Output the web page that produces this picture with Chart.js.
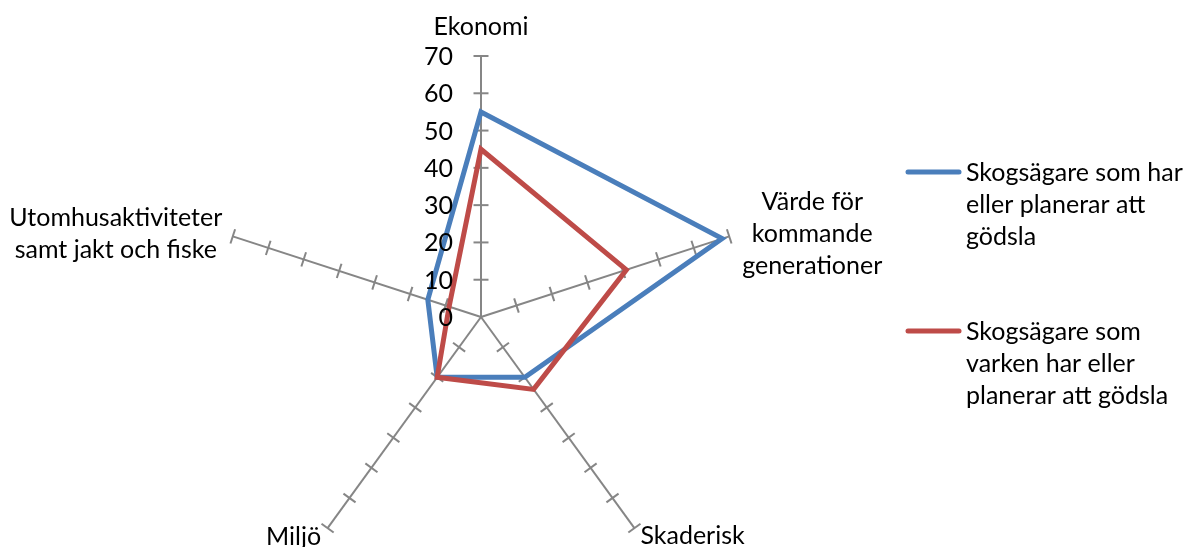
<!DOCTYPE html>
<html>
<head>
<meta charset="utf-8">
<title>Skogsägares värderingar</title>
<script src="https://cdn.jsdelivr.net/npm/chart.js@4/dist/chart.umd.min.js"></script>
<style>
  html, body { margin: 0; padding: 0; background: #ffffff; overflow: hidden; }
  #wrap { position: relative; width: 1192px; height: 640px; }
</style>
</head>
<body>
<div id="wrap"><canvas id="radar" width="1192" height="640"></canvas></div>
<script>
// Axis categories (multi-line labels), clockwise from the top
const categories = [
  ['Ekonomi'],
  ['Värde för', 'kommande', 'generationer'],
  ['Skaderisk'],
  ['Miljö'],
  ['Utomhusaktiviteter', 'samt jakt och fiske']
];

// Series names, wrapped as shown in the legend
const seriesNames = [
  ['Skogsägare som har', 'eller planerar att', 'gödsla'],
  ['Skogsägare som', 'varken har eller', 'planerar att gödsla']
];

// Values per category
const fertilizing = [55, 68, 20, 20, 15];
const notFertilizing = [45, 41, 24, 20, 9];

// Radial axis tick labels
const tickLabels = ['0', '10', '20', '30', '40', '50', '60', '70'];

const FONT = 'Lato, "Open Sans", sans-serif';
const FONT_SIZE = 25;
const BLUE = '#4A7EBB';
const RED = '#BE4B48';
const AXIS = '#868686';

// Placement of each category label relative to the end of its spoke
const labelPlacement = [
  { dx: 0,    dy: -29, align: 'center' },
  { dx: 83,   dy: -34, align: 'center' },
  { dx: 6,    dy: 8,   align: 'left' },
  { dx: -34,  dy: 9,   align: 'center' },
  { dx: -117, dy: -18, align: 'center' }
];
const LINE_H = 32;

const radarDecor = {
  id: 'radarDecor',
  beforeDatasetsDraw(chart) {
    const r = chart.scales.r;
    const ctx = chart.ctx;
    ctx.save();
    ctx.strokeStyle = AXIS;
    ctx.lineWidth = 2;
    const n = chart.data.labels.length;
    for (let i = 0; i < n; i++) {
      const ang = r.getIndexAngle(i) - Math.PI / 2;
      const px = -Math.sin(ang), py = Math.cos(ang);
      for (let k = 1; k < tickLabels.length; k++) {
        const v = Number(tickLabels[k]);
        const p = r.getPointPosition(i, r.getDistanceFromCenterForValue(v));
        ctx.beginPath();
        ctx.moveTo(p.x - px * 7.5, p.y - py * 7.5);
        ctx.lineTo(p.x + px * 7.5, p.y + py * 7.5);
        ctx.stroke();
      }
    }
    ctx.restore();
  },
  afterDraw(chart) {
    const r = chart.scales.r;
    const ctx = chart.ctx;
    ctx.save();
    ctx.fillStyle = '#000000';
    ctx.font = FONT_SIZE + 'px ' + FONT;
    ctx.textBaseline = 'middle';

    // tick labels along the top spoke
    ctx.textAlign = 'right';
    tickLabels.forEach(t => {
      const p = r.getPointPosition(0, r.getDistanceFromCenterForValue(Number(t)));
      ctx.fillText(t, p.x - 28, p.y + 1);
    });

    // category labels
    categories.forEach((lines, i) => {
      const end = r.getPointPosition(i, r.drawingArea);
      const pl = labelPlacement[i];
      ctx.textAlign = pl.align;
      lines.forEach((txt, j) => {
        ctx.fillText(txt, end.x + pl.dx, end.y + pl.dy + j * LINE_H);
      });
    });

    // legend
    const colors = [BLUE, RED];
    const legendX = 906, legendTop = [172, 331];
    seriesNames.forEach((lines, s) => {
      const y = legendTop[s];
      ctx.strokeStyle = colors[s];
      ctx.lineWidth = 5;
      ctx.lineCap = 'round';
      ctx.beginPath();
      ctx.moveTo(legendX + 2, y);
      ctx.lineTo(legendX + 53, y);
      ctx.stroke();
      ctx.textAlign = 'left';
      lines.forEach((txt, j) => {
        ctx.fillText(txt, legendX + 60, y + 1 + j * LINE_H);
      });
    });
    ctx.restore();
  }
};

new Chart(document.getElementById('radar'), {
  type: 'radar',
  data: {
    labels: categories,
    datasets: [
      { label: seriesNames[0].join(' '), data: fertilizing, borderColor: BLUE, order: 1 },
      { label: seriesNames[1].join(' '), data: notFertilizing, borderColor: RED, order: 0 }
    ]
  },
  options: {
    responsive: false,
    animation: false,
    devicePixelRatio: 1,
    layout: { padding: { top: 56, left: 220, right: 450, bottom: 62 } },
    elements: {
      line: { borderWidth: 5, borderJoinStyle: 'miter', tension: 0, fill: false, backgroundColor: 'transparent' },
      point: { radius: 0, hoverRadius: 0 }
    },
    scales: {
      r: {
        min: 0,
        max: 70,
        ticks: { stepSize: 10, display: false },
        grid: { display: false },
        angleLines: { display: true, color: AXIS, lineWidth: 2 },
        pointLabels: { display: false }
      }
    },
    plugins: { legend: { display: false }, tooltip: { enabled: false } }
  },
  plugins: [radarDecor]
});
</script>
</body>
</html>
